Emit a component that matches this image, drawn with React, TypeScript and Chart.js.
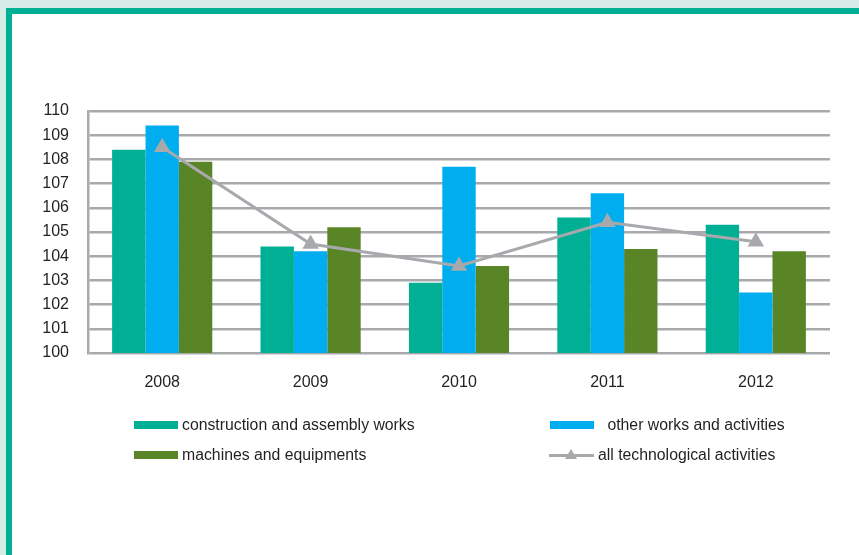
import React, { useEffect, useRef } from "react";
import { Chart, registerables } from "chart.js";

Chart.register(...registerables);

const categories = ["2008", "2009", "2010", "2011", "2012"];
const construction = [108.4, 104.4, 102.9, 105.6, 105.3];
const otherWorks = [109.4, 104.2, 107.7, 106.6, 102.5];
const machines = [107.9, 105.2, 103.6, 104.3, 104.2];
const allActivities = [108.5, 104.5, 103.6, 105.4, 104.6];

const seriesNames = [
  "construction and assembly works",
  " other works and activities",
  "machines and equipments",
  "all technological activities",
];

const TEAL = "#00af94";
const BLUE = "#00aeef";
const GREEN = "#5a8527";
const GRAY = "#a7a9ac";
const FONT = "'Liberation Sans', Arial, sans-serif";

export default function App() {
  const ref = useRef<HTMLCanvasElement | null>(null);

  useEffect(() => {
    if (!ref.current) return;
    const chart = new Chart(ref.current, {
      type: "bar",
      data: {
        labels: categories,
        datasets: [
          {
            type: "line",
            label: seriesNames[3],
            data: allActivities,
            borderColor: GRAY,
            backgroundColor: GRAY,
            borderWidth: 3,
            pointStyle: "triangle",
            pointRadius: 6.5,
            pointBackgroundColor: GRAY,
            pointBorderColor: GRAY,
            order: 0,
          } as any,
          {
            label: seriesNames[0],
            data: construction,
            backgroundColor: TEAL,
            categoryPercentage: 0.675,
            barPercentage: 1,
            order: 1,
          },
          {
            label: seriesNames[1],
            data: otherWorks,
            backgroundColor: BLUE,
            categoryPercentage: 0.675,
            barPercentage: 1,
            order: 1,
          },
          {
            label: seriesNames[2],
            data: machines,
            backgroundColor: GREEN,
            categoryPercentage: 0.675,
            barPercentage: 1,
            order: 1,
          },
        ],
      },
      options: {
        animation: false,
        responsive: false,
        maintainAspectRatio: false,
        layout: { padding: { top: 111, right: 29, left: 0, bottom: 0 } },
        plugins: { legend: { display: false }, tooltip: { enabled: false } },
        scales: {
          x: {
            grid: { display: false, drawTicks: false },
            border: { display: false },
            ticks: {
              color: "#231f20",
              font: { family: FONT, size: 16 },
              padding: 20,
            },
            afterFit: (s: any) => {
              s.height = 202;
            },
          },
          y: {
            min: 100,
            max: 110,
            ticks: {
              stepSize: 1,
              color: "#231f20",
              font: { family: FONT, size: 16 },
              padding: 19,
            },
            grid: { color: GRAY, lineWidth: 2.5, drawTicks: false },
            border: { display: true, color: GRAY, width: 2.5 },
            afterFit: (s: any) => {
              s.width = 88;
            },
          },
        },
      },
    });
    return () => chart.destroy();
  }, []);

  const legendText: React.CSSProperties = {
    position: "absolute",
    fontFamily: FONT,
    fontSize: 15.8,
    color: "#231f20",
    whiteSpace: "pre",
    lineHeight: "18px",
  };
  const swatch = (x: number, y: number, c: string) => (
    <div style={{ position: "absolute", left: x, top: y, width: 44, height: 8, background: c }} />
  );

  return (
    <div style={{ position: "fixed", left: 0, top: 0, width: 859, height: 555, background: "#d4ece5", overflow: "hidden" }}>
      <div
        style={{
          position: "absolute",
          left: 6,
          top: 8,
          right: 0,
          bottom: 0,
          background: "#ffffff",
          borderLeft: `6px solid ${TEAL}`,
          borderTop: `6px solid ${TEAL}`,
        }}
      />
      <canvas ref={ref} width={859} height={555} style={{ position: "absolute", left: 0, top: 0 }} />
      {swatch(134, 421, TEAL)}
      <div style={{ ...legendText, left: 182, top: 416 }}>{seriesNames[0]}</div>
      {swatch(550, 421, BLUE)}
      <div style={{ ...legendText, left: 603, top: 416 }}>{seriesNames[1]}</div>
      {swatch(134, 451, GREEN)}
      <div style={{ ...legendText, left: 182, top: 446 }}>{seriesNames[2]}</div>
      <div style={{ position: "absolute", left: 549, top: 454, width: 45, height: 3, background: GRAY }} />
      <div
        style={{
          position: "absolute",
          left: 565,
          top: 449,
          width: 0,
          height: 0,
          borderLeft: "6px solid transparent",
          borderRight: "6px solid transparent",
          borderBottom: `10px solid ${GRAY}`,
        }}
      />
      <div style={{ ...legendText, left: 598, top: 446 }}>{seriesNames[3]}</div>
    </div>
  );
}
